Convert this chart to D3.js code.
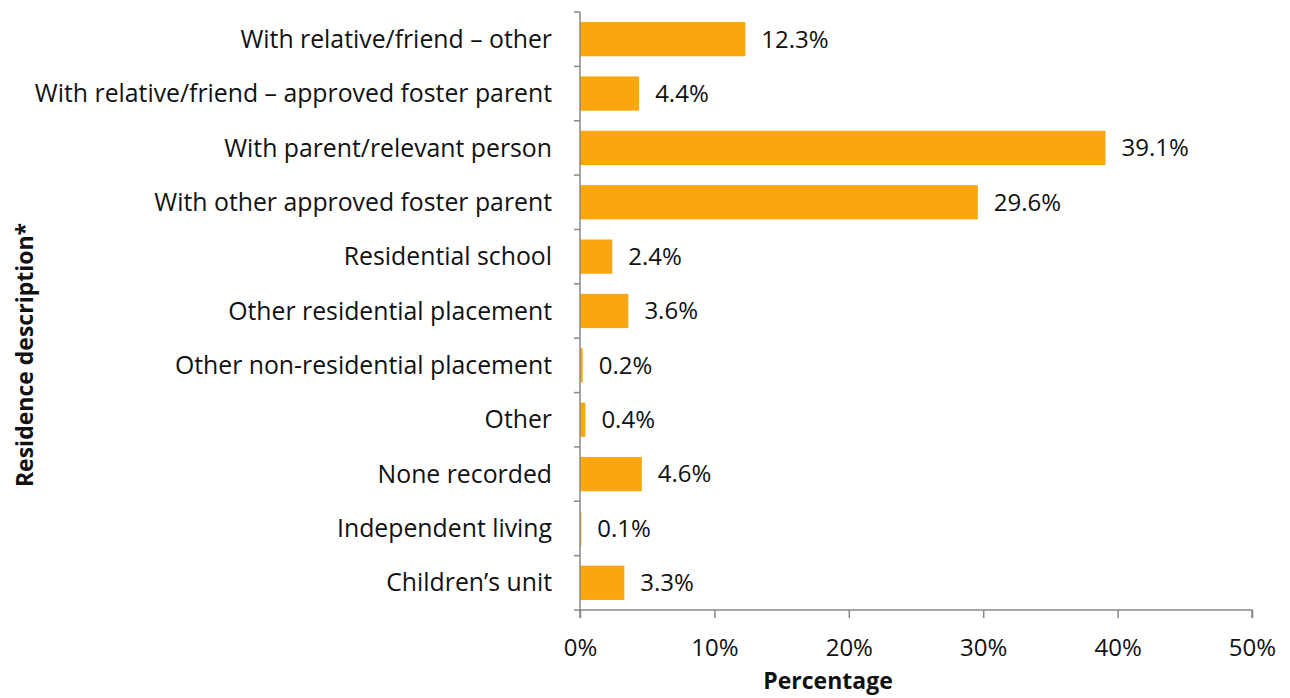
<!DOCTYPE html>
<html lang="en">
<head>
<meta charset="UTF-8">
<title>Residence description</title>
<script src="https://d3js.org/d3.v7.min.js"></script>
<style>
  body { margin: 0; background: #fff; }
  text { font-family: "Open Sans", sans-serif; fill: #111; }
</style>
</head>
<body>
<svg width="1290" height="698"></svg>
<script>
// data
var categories = [
  "With relative/friend \u2013 other",
  "With relative/friend \u2013 approved foster parent",
  "With parent/relevant person",
  "With other approved foster parent",
  "Residential school",
  "Other residential placement",
  "Other non-residential placement",
  "Other",
  "None recorded",
  "Independent living",
  "Children\u2019s unit"
];
var percentages = [12.3, 4.4, 39.1, 29.6, 2.4, 3.6, 0.2, 0.4, 4.6, 0.1, 3.3];
var xTicks = [0, 10, 20, 30, 40, 50];

var svg = d3.select("svg");
var plotLeft = 580, plotRight = 1252, plotTop = 12, plotBottom = 610;
var fs = "24px";

var x = d3.scaleLinear().domain([0, 50]).range([plotLeft, plotRight]);
var y = d3.scaleBand().domain(categories).range([plotTop, plotBottom]).paddingInner(0.37).paddingOuter(0.185);

var data = categories.map(function (c, i) { return { cat: c, val: percentages[i] }; });

// bars
svg.selectAll("rect.bar").data(data).enter()
  .append("rect")
  .attr("class", "bar")
  .attr("x", x(0))
  .attr("y", function (d) { return y(d.cat); })
  .attr("width", function (d) { return x(d.val) - x(0); })
  .attr("height", y.bandwidth())
  .attr("fill", "#F9A70C");

// value labels
svg.selectAll("text.val").data(data).enter()
  .append("text")
  .attr("class", "val")
  .attr("x", function (d) { return x(d.val) + 16; })
  .attr("y", function (d) { return y(d.cat) + y.bandwidth() / 2; })
  .attr("dy", "0.35em")
  .style("font-size", fs)
  .text(function (d) { return d.val.toFixed(1) + "%"; });

// y axis (category labels + tick marks between bands)
var band = (plotBottom - plotTop) / categories.length;
var yAxis = svg.append("g");
yAxis.append("line")
  .attr("x1", plotLeft).attr("x2", plotLeft).attr("y1", plotTop).attr("y2", plotBottom)
  .attr("stroke", "#888").attr("stroke-width", 1.5);
yAxis.selectAll("line.tick").data(d3.range(categories.length + 1)).enter()
  .append("line")
  .attr("class", "tick")
  .attr("x1", plotLeft - 6).attr("x2", plotLeft)
  .attr("y1", function (i) { return plotTop + i * band; })
  .attr("y2", function (i) { return plotTop + i * band; })
  .attr("stroke", "#888").attr("stroke-width", 1.5);
yAxis.selectAll("text").data(categories).enter()
  .append("text")
  .attr("x", plotLeft - 28)
  .attr("y", function (d) { return y(d) + y.bandwidth() / 2; })
  .attr("dy", "0.35em")
  .attr("text-anchor", "end")
  .style("font-size", "24.8px")
  .text(function (d) { return d; });

// x axis
var xAxis = svg.append("g").attr("transform", "translate(0," + plotBottom + ")")
  .call(d3.axisBottom(x).tickValues(xTicks).tickSize(8).tickPadding(21)
    .tickFormat(function (d) { return d + "%"; }));
xAxis.select(".domain").attr("stroke", "#888").attr("stroke-width", 1.5)
  .attr("d", "M" + plotLeft + ",8V0H" + plotRight + "V8");
xAxis.selectAll(".tick line").attr("stroke", "#888").attr("stroke-width", 1.5);
xAxis.selectAll(".tick text").style("font-size", fs).attr("fill", "#111")
  .style("font-family", "'Open Sans', sans-serif");

// axis titles
svg.append("text")
  .attr("x", 828)
  .attr("y", 689)
  .attr("text-anchor", "middle")
  .style("font-size", "23px")
  .style("font-weight", "bold")
  .text("Percentage");

svg.append("text")
  .attr("transform", "translate(33,355) rotate(-90)")
  .attr("text-anchor", "middle")
  .style("font-size", "23px")
  .style("font-weight", "bold")
  .text("Residence description*");
</script>
</body>
</html>
